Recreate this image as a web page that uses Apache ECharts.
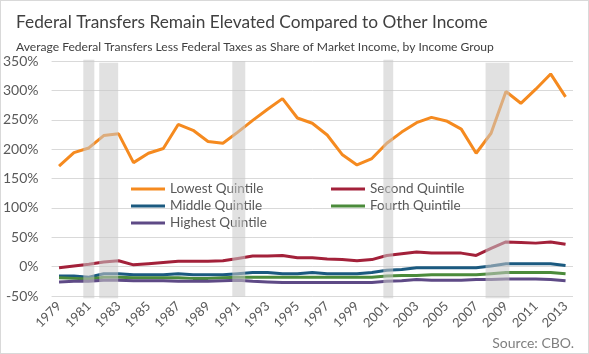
<!DOCTYPE html>
<html><head><meta charset="utf-8">
<script src="https://cdn.jsdelivr.net/npm/echarts@6/dist/echarts.min.js"></script>
<style>
html,body{margin:0;padding:0;background:#fff;}
#wrap{position:absolute;left:0;top:0;width:587px;height:352px;border:1px solid #d9d9d9;}
#c{position:absolute;left:0;top:0;width:589px;height:354px;}
</style></head>
<body><div id="wrap"></div><div id="c"></div>
<script>
const years = [];
for (let y = 1979; y <= 2013; y++) years.push(String(y));
const lowest = [171,194,202,223,226,177,193,201,242,232,213,210,229,249,268,286,253,244,224,191,173,184,210,229,245,254,248,234,193,227,298,278,302,328,289];
const second = [-2,1,4,8,10,3,5,7,9,9,9,10,14,18,18,19,15,15,13,12,10,12,19,22,25,23,23,23,19,31,42,41,40,42,38];
const middle = [-16,-16,-18,-12,-12,-14,-14,-14,-12,-14,-14,-14,-12,-10,-10,-12,-12,-10,-12,-12,-12,-10,-6,-5,-2,-2,-2,-2,-2,1,5,5,5,5,2];
const fourth = [-19,-20,-21,-18,-18,-19,-19,-19,-19,-20,-20,-19,-18,-18,-18,-18,-18,-18,-18,-18,-18,-18,-16,-15,-15,-14,-14,-14,-14,-12,-10,-10,-10,-10,-12];
const highest = [-26,-25,-25,-23,-23,-24,-24,-24,-25,-25,-25,-24,-23,-25,-26,-27,-27,-27,-27,-27,-27,-27,-25,-24,-22,-23,-23,-23,-22,-22,-21,-21,-21,-22,-24];
// recession shading: [startYear, endYear, top%, bottom%]
const recessions = [[1980.63,1981.37,352,-54],[1981.7,1982.97,347,-54],[1990.63,1991.5,350,-51],[2000.77,2001.43,352,-54],[2007.63,2009.23,347,-54]];
const names = ['Lowest Quintile','Second Quintile','Middle Quintile','Fourth Quintile','Highest Quintile'];
const colors = ['#F58A1F','#A3213A','#1B5A80','#4B8B3B','#5E4A86'];
const seriesData = [lowest, second, middle, fourth, highest];

const chart = echarts.init(document.getElementById('c'));
const font = 'Lato, "Open Sans", sans-serif';
chart.setOption({
  animation: false,
  textStyle: {fontFamily: font},
  title: [
    {text: 'Federal Transfers Remain Elevated Compared to Other Income', left: 11, top: 9,
     textStyle: {fontFamily: font, fontSize: 17.3, fontWeight: 'normal', color: '#404040'}},
    {text: 'Average Federal Transfers Less Federal Taxes as Share of Market Income, by Income Group', left: 11, top: 36,
     textStyle: {fontFamily: font, fontSize: 12.1, fontWeight: 'normal', color: '#404040'}},
    {text: 'Source: CBO.', right: 10, top: 331,
     textStyle: {fontFamily: font, fontSize: 14, fontWeight: 'normal', color: '#7f7f7f'}}
  ],
  legend: {
    left: 131, top: 181, width: 410, itemGap: 1, itemWidth: 34, itemHeight: 3, padding: 0,
    data: names.map(n => ({name: n, icon: 'rect'})),
    textStyle: {fontFamily: font, fontSize: 13.5, color: '#595959', width: 160, lineHeight: 16}
  },
  grid: {left: 49, right: 16, top: 61, bottom: 58, containLabel: false},
  xAxis: [
    {type: 'category', data: years, boundaryGap: true,
     axisLine: {show: false}, axisTick: {show: false},
     axisLabel: {interval: 1, rotate: 45, fontSize: 13, color: '#595959', fontFamily: font, margin: 8}},
    {type: 'value', min: 1978.5, max: 2013.5, show: false}
  ],
  yAxis: {type: 'value', min: -50, max: 350, interval: 50,
    axisLine: {show: false}, axisTick: {show: false},
    axisLabel: {formatter: '{value}%', fontSize: 14, color: '#595959', fontFamily: font, margin: 13},
    splitLine: {lineStyle: {color: '#d9d9d9', width: 1}}},
  series: seriesData.map((d, i) => ({
    name: names[i], type: 'line', data: d, symbol: 'none', smooth: false,
    lineStyle: {width: 3, color: colors[i]}, itemStyle: {color: colors[i]}, z: 2
  })).concat([{
    type: 'custom', xAxisIndex: 1, yAxisIndex: 0, clip: false, z: 5, silent: true,
    data: recessions,
    renderItem: function (params, api) {
      const p1 = api.coord([api.value(0), api.value(2)]);
      const p2 = api.coord([api.value(1), api.value(3)]);
      return {type: 'rect', shape: {x: p1[0], y: p1[1], width: p2[0] - p1[0], height: p2[1] - p1[1]},
        style: {fill: 'rgba(200,200,200,0.55)'}};
    }
  }])
});
</script></body></html>
